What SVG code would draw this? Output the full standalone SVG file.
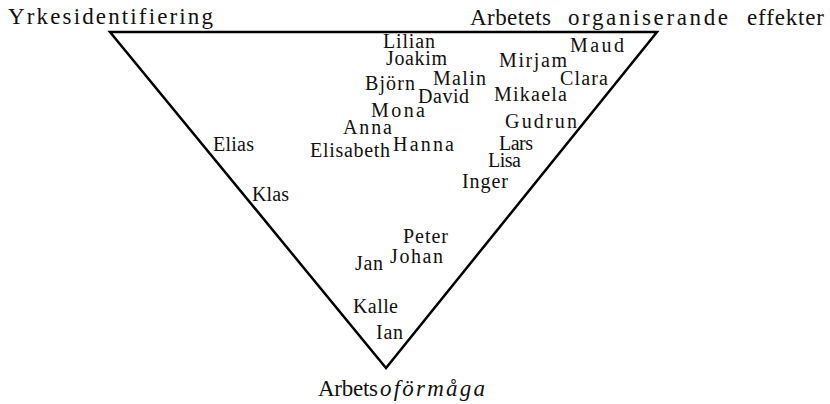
<svg xmlns="http://www.w3.org/2000/svg" width="830" height="404" viewBox="0 0 830 404">
<style>
.t{font-family:"Liberation Serif","DejaVu Serif",serif;font-size:23px;fill:#111}
.n{font-family:"Liberation Serif","DejaVu Serif",serif;font-size:20px;fill:#111}
.tri{fill:none;stroke:#000;stroke-width:2.5;stroke-linejoin:miter}
</style>
<rect width="830" height="404" fill="#fff"/>
<g id="connectors">
<path class="tri" d="M110,32 L657,32 L386,368 Z"/>
</g>
<g id="yrkesidentifiering"><text class="t" x="8" y="24" textLength="205" lengthAdjust="spacing">Yrkesidentifiering</text></g>
<g id="arbetets-organiserande-effekter">
<text class="t" x="470" y="25" textLength="81" lengthAdjust="spacing">Arbetets</text>
<text class="t" x="568" y="25" textLength="160" lengthAdjust="spacing">organiserande</text>
<text class="t" x="747" y="25" textLength="77" lengthAdjust="spacing">effekter</text>
</g>
<g id="arbetsoformaga">
<text class="t" x="318" y="396" textLength="60" lengthAdjust="spacing">Arbets</text>
<text class="t" x="380" y="396" font-style="italic" textLength="105" lengthAdjust="spacing">oförmåga</text>
</g>
<g id="lilian"><text class="n" x="383" y="48" textLength="52" lengthAdjust="spacing">Lilian</text></g>
<g id="joakim"><text class="n" x="386" y="65" textLength="61" lengthAdjust="spacing">Joakim</text></g>
<g id="bjorn"><text class="n" x="365" y="90" textLength="50" lengthAdjust="spacing">Björn</text></g>
<g id="malin"><text class="n" x="433" y="85" textLength="53" lengthAdjust="spacing">Malin</text></g>
<g id="david"><text class="n" x="418" y="103" textLength="51" lengthAdjust="spacing">David</text></g>
<g id="mona"><text class="n" x="371" y="117" textLength="54" lengthAdjust="spacing">Mona</text></g>
<g id="anna"><text class="n" x="343" y="134" textLength="49" lengthAdjust="spacing">Anna</text></g>
<g id="elisabeth"><text class="n" x="310" y="157" textLength="80" lengthAdjust="spacing">Elisabeth</text></g>
<g id="hanna"><text class="n" x="393" y="151" textLength="61" lengthAdjust="spacing">Hanna</text></g>
<g id="maud"><text class="n" x="570" y="52" textLength="54" lengthAdjust="spacing">Maud</text></g>
<g id="mirjam"><text class="n" x="499" y="67" textLength="68" lengthAdjust="spacing">Mirjam</text></g>
<g id="clara"><text class="n" x="560" y="85" textLength="48" lengthAdjust="spacing">Clara</text></g>
<g id="mikaela"><text class="n" x="494" y="101" textLength="73" lengthAdjust="spacing">Mikaela</text></g>
<g id="gudrun"><text class="n" x="505" y="128" textLength="72" lengthAdjust="spacing">Gudrun</text></g>
<g id="lars"><text class="n" x="499" y="150" textLength="34" lengthAdjust="spacing">Lars</text></g>
<g id="lisa"><text class="n" x="488" y="167" textLength="33" lengthAdjust="spacing">Lisa</text></g>
<g id="inger"><text class="n" x="462" y="188" textLength="46" lengthAdjust="spacing">Inger</text></g>
<g id="elias"><text class="n" x="213" y="151" textLength="41" lengthAdjust="spacing">Elias</text></g>
<g id="klas"><text class="n" x="252" y="201" textLength="37" lengthAdjust="spacing">Klas</text></g>
<g id="peter"><text class="n" x="403" y="243" textLength="45" lengthAdjust="spacing">Peter</text></g>
<g id="johan"><text class="n" x="390" y="263" textLength="53" lengthAdjust="spacing">Johan</text></g>
<g id="jan"><text class="n" x="355" y="270" textLength="28" lengthAdjust="spacing">Jan</text></g>
<g id="kalle"><text class="n" x="353" y="313" textLength="45" lengthAdjust="spacing">Kalle</text></g>
<g id="ian"><text class="n" x="376" y="339" textLength="27" lengthAdjust="spacing">Ian</text></g>
</svg>
